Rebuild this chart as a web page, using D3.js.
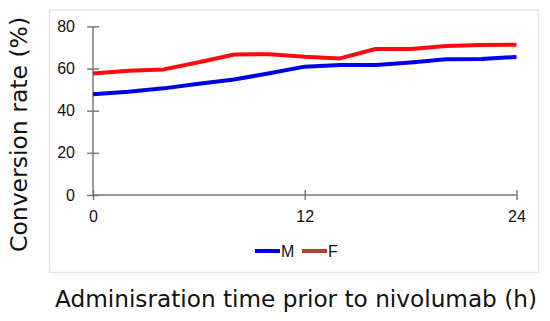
<!DOCTYPE html>
<html>
<head>
<meta charset="utf-8">
<script src="https://d3js.org/d3.v7.min.js"></script>
<style>
  body { margin: 0; background: #fff; }
  .tick text { font-family: "Liberation Sans", Arial, sans-serif; font-size: 16px; fill: #111; }
  .axis path, .axis line { stroke: #7a7a7a; stroke-width: 1.5px; }
  .title { font-family: "DejaVu Sans", Verdana, sans-serif; fill: #111; }
  .legend text { font-family: "Liberation Sans", Arial, sans-serif; font-size: 16px; fill: #111; }
</style>
</head>
<body>
<div id="chart"></div>
<script>
// hours before nivolumab
var hours = [0, 2, 4, 6, 8, 10, 12, 14, 16, 18, 20, 22, 24];
var male = [47.8, 49.0, 50.6, 52.8, 54.8, 57.8, 60.9, 61.7, 61.7, 62.9, 64.4, 64.5, 65.5];
var female = [57.7, 59.0, 59.6, 63.0, 66.7, 66.8, 65.6, 64.8, 69.3, 69.3, 70.7, 71.2, 71.3];
var xTicks = [0, 12, 24];
var yTicks = [0, 20, 40, 60, 80];

var width = 550, height = 321;

var svg = d3.select("#chart").append("svg")
  .attr("width", width)
  .attr("height", height);

// light frame round the plot
svg.append("rect")
  .attr("x", 49.5).attr("y", 10)
  .attr("width", 489).attr("height", 262.5)
  .attr("fill", "#fff")
  .attr("stroke", "#e4e4e4")
  .attr("stroke-width", 1.5);

var x = d3.scaleLinear().domain([0, 24]).range([93, 516.5]);
var y = d3.scaleLinear().domain([0, 80]).range([195, 26.4]);

var yAxis = svg.append("g")
  .attr("class", "axis")
  .attr("transform", "translate(" + x(0) + ",0)")
  .call(d3.axisLeft(y).tickValues(yTicks).tickSize(6).tickSizeOuter(0).tickPadding(12));
yAxis.selectAll(".tick line").attr("x1", -6).attr("x2", 6);

var xAxis = svg.append("g")
  .attr("class", "axis")
  .attr("transform", "translate(0," + y(0) + ")")
  .call(d3.axisBottom(x).tickValues(xTicks).tickSize(5).tickSizeOuter(0).tickPadding(11));
xAxis.selectAll(".tick line").attr("y1", -5).attr("y2", 5);
xAxis.select(".domain").attr("d", "M" + x(0) + ",0H" + x(24));
yAxis.select(".domain").attr("d", "M0," + y(0) + "V" + y(80));

var line = d3.line()
  .x(function (d) { return x(d[0]); })
  .y(function (d) { return y(d[1]); });

var series = [
  { name: "M", values: male, color: "#0000e6" },
  { name: "F", values: female, color: "#ff0a0a" }
];

svg.selectAll(".series")
  .data(series)
  .enter().append("path")
  .attr("class", "series")
  .attr("fill", "none")
  .attr("stroke", function (d) { return d.color; })
  .attr("stroke-width", 4)
  .attr("stroke-linejoin", "round")
  .attr("d", function (d) { return line(hours.map(function (h, i) { return [h, d.values[i]]; })); });

// legend
var legend = svg.append("g").attr("class", "legend");
var legendX = [255, 302];
var legendColors = ["#0000e6", "#b0402e"];
series.forEach(function (s, i) {
  legend.append("line")
    .attr("x1", legendX[i]).attr("x2", legendX[i] + 25)
    .attr("y1", 251).attr("y2", 251)
    .attr("stroke", legendColors[i])
    .attr("stroke-width", 4);
  legend.append("text")
    .attr("x", legendX[i] + 26)
    .attr("y", 257)
    .text(s.name);
});

svg.append("text")
  .attr("class", "title")
  .attr("x", 55)
  .attr("y", 306.5)
  .style("font-size", "23.2px")
  .text("Adminisration time prior to nivolumab (h)");

svg.append("text")
  .attr("class", "title")
  .attr("transform", "translate(26.5,252) rotate(-90)")
  .style("font-size", "23.5px")
  .text("Conversion rate (%)");
</script>
</body>
</html>
